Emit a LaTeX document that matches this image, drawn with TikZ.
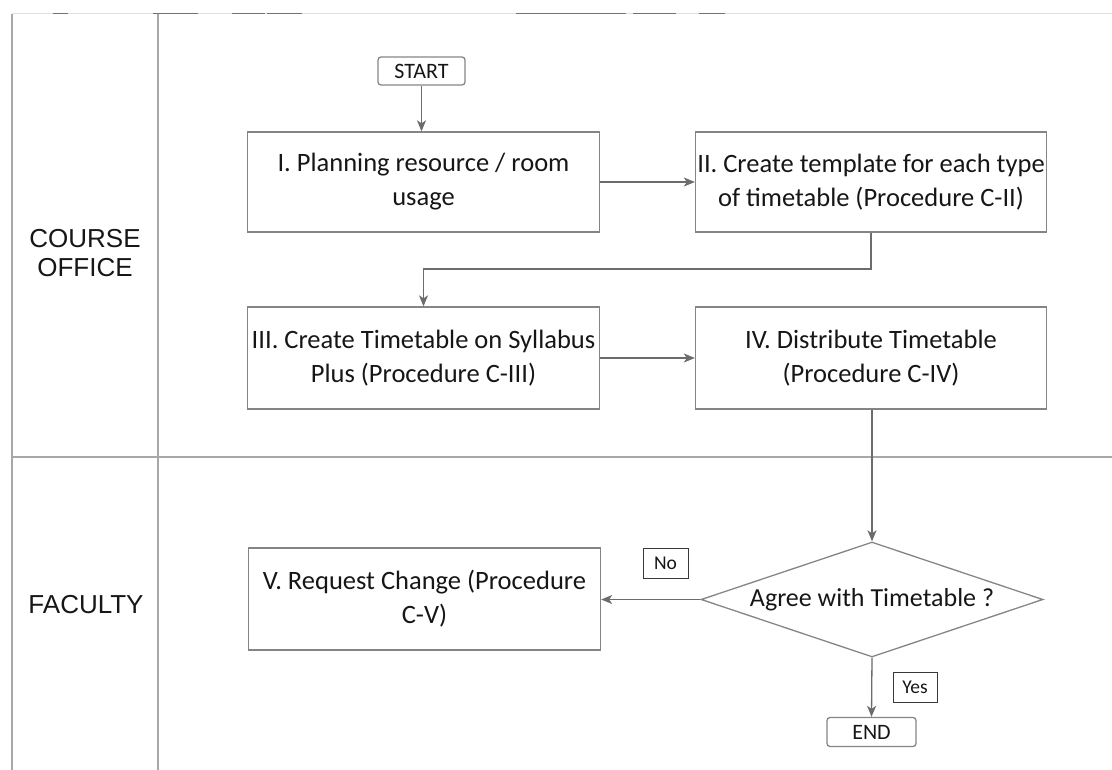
\documentclass[tikz,border=0pt]{standalone}
\usepackage{fontspec}
\setmainfont{Carlito}
\newfontfamily\lanefont{Liberation Sans}
\usetikzlibrary{shapes.geometric,arrows.meta}
\definecolor{boxline}{HTML}{858585}
\definecolor{arrowline}{HTML}{6C6C6C}
\definecolor{txt}{HTML}{161616}
\definecolor{laneline}{HTML}{A8A8A8}
\tikzset{
  stepbox/.style={draw=boxline, line width=1.3pt, minimum width=352pt, minimum height=100pt,
    align=center, text=txt, font=\fontsize{26.5}{34}\selectfont, inner sep=0pt},
  termbox/.style={draw=boxline, line width=1.3pt, rounded corners=3pt, text=txt,
    font=\fontsize{22}{24}\selectfont, inner sep=0pt},
  tagbox/.style={draw=txt!85, line width=0.9pt, text=txt, font=\fontsize{19.5}{22}\selectfont, inner sep=0pt},
  decision/.style={draw=boxline, line width=1.3pt, diamond, shape aspect=3, inner sep=0pt,
    minimum width=342pt, minimum height=115pt, text=txt, font=\fontsize{26}{30}\selectfont},
  flow/.style={draw=arrowline, line width=1.3pt,
    -{Stealth[length=11pt,width=9pt,inset=3pt]}},
  lane/.style={draw=laneline, line width=1.4pt},
  lanelabel/.style={align=center, text=txt, font=\lanefont\fontsize{26}{29}\selectfont},
}
\begin{document}
\begin{tikzpicture}[x=1pt,y=-1pt]
\useasboundingbox (0,0) rectangle (1112,770);

% swimlane frame
\draw[draw=black!12, line width=1pt] (12,14) -- (1112,14);
\foreach \a/\b in {53/68,153/198,232/265,267/302,516/626,633/676,699/725}
  \draw[draw=black!55, line width=1pt] (\a,14) -- (\b,14);
\draw[lane] (12,14) -- (12,770);
\draw[lane] (158,14) -- (158,770);
\draw[lane] (12,457) -- (1112,457);

% lane titles
\node[lanelabel] (lane1) at (85,253) {COURSE\\OFFICE};
\node[lanelabel] (lane2) at (86,605) {FACULTY};

% process steps
\node[termbox, minimum width=87pt, minimum height=28pt] (start) at (421.5,71) {START};
\node[stepbox, minimum height=100pt] (s1) at (423.5,182) {I. Planning resource / room\\usage};
\node[stepbox, minimum width=351pt, minimum height=100pt] (s2) at (871,182) {II. Create template for each type\\of timetable (Procedure C-II)};
\node[stepbox, minimum height=102pt] (s3) at (423.5,358) {III. Create Timetable on Syllabus\\Plus (Procedure C-III)};
\node[stepbox, minimum width=351pt, minimum height=102pt] (s4) at (871,358) {IV. Distribute Timetable\\(Procedure C-IV)};
\node[decision] (agree) at (872,599.5) {Agree with Timetable ?};
\node[stepbox, minimum height=102pt] (s5) at (424.5,599) {V. Request Change (Procedure\\C-V)};
\node[termbox, minimum width=89pt, minimum height=29pt] (finish) at (871.5,732) {END};

% branch tags
\node[tagbox, minimum width=45pt, minimum height=30pt] (no) at (665.5,563) {No};
\node[tagbox, minimum width=44pt, minimum height=30pt] (yes) at (915,687.5) {Yes};

% connectors
\draw[flow] (start.south) -- (start.south |- s1.north);
\draw[flow] (s1.east) -- (s2.west);
\coordinate (bend) at ([xshift=-1pt]s2.south |- 0,269);
\draw[flow] (s2.south) -- (s2.south |- bend) -- (s3.north |- bend) -- (s3.north);
\draw[flow] (s3.east) -- (s4.west);
\draw[flow] (s4.south -| agree.north) -- (agree.north);
\draw[flow] (agree.west) -- (agree.west -| s5.east);
\draw[flow] (agree.south) -- (finish.north);
\end{tikzpicture}
\end{document}
